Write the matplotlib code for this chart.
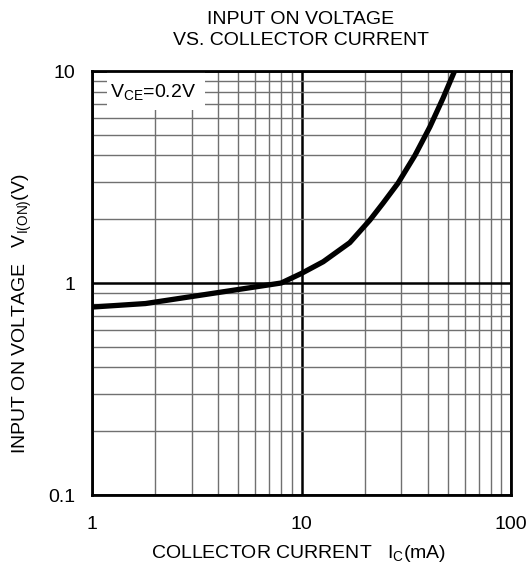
import matplotlib
matplotlib.use("Agg")
import matplotlib.pyplot as plt
from matplotlib.ticker import FixedLocator, FixedFormatter, NullFormatter, LogLocator
from matplotlib.patches import Rectangle

plt.rcParams['font.family'] = ['Liberation Sans', 'DejaVu Sans']
plt.rcParams['mathtext.fontset'] = 'custom'
plt.rcParams['mathtext.rm'] = 'Liberation Sans'
plt.rcParams['mathtext.it'] = 'Liberation Sans'
plt.rcParams['mathtext.default'] = 'regular'

# Data
collector_current_mA = [1.0, 1.8, 8.0, 10.0, 12.7, 17.0, 21.2, 24.5, 28.9, 34.8, 41.0, 47.4, 53.8]
input_on_voltage_V = [0.77, 0.80, 1.0, 1.11, 1.26, 1.55, 1.98, 2.38, 2.96, 4.0, 5.45, 7.45, 10.0]

x_ticks = [1, 10, 100]
x_tick_labels = ["1", "10", "100"]
y_ticks = [0.1, 1, 10]
y_tick_labels = ["0.1", "1", "10"]

title = "INPUT ON VOLTAGE\nVS. COLLECTOR CURRENT"
xlabel = "COLLECTOR CURRENT   I$_C$(mA)"
ylabel = "INPUT ON VOLTAGE   V$_{I(ON)}$(V)"
annotation = "V$_{CE}$=0.2V"

FS = 14

W, H = 528, 564
fig = plt.figure(figsize=(W / 100, H / 100), dpi=100)
L, R, T, B = 92, 511, 71, 495
ax = fig.add_axes([L / W, 1 - B / H, (R - L) / W, (B - T) / H])

ax.set_xscale('log')
ax.set_yscale('log')
ax.set_xlim(1, 100)
ax.set_ylim(0.1, 10)

ax.xaxis.set_major_locator(FixedLocator(x_ticks))
ax.xaxis.set_major_formatter(FixedFormatter(x_tick_labels))
ax.yaxis.set_major_locator(FixedLocator(y_ticks))
ax.yaxis.set_major_formatter(FixedFormatter(y_tick_labels))
ax.xaxis.set_minor_locator(LogLocator(base=10, subs=range(2, 10)))
ax.yaxis.set_minor_locator(LogLocator(base=10, subs=range(2, 10)))
ax.xaxis.set_minor_formatter(NullFormatter())
ax.yaxis.set_minor_formatter(NullFormatter())

ax.grid(which='minor', color='#707070', lw=1.0, zorder=1)
ax.grid(which='major', color='black', lw=1.8, zorder=1)
ax.set_axisbelow(True)

ax.tick_params(which='both', length=0)
ax.tick_params(axis='x', pad=15, labelsize=FS)
ax.tick_params(axis='y', pad=12, labelsize=FS)

for s in ax.spines.values():
    s.set_linewidth(2.0)
    s.set_zorder(5)

ax.add_patch(Rectangle((0.036, 0.908), 0.234, 0.092, transform=ax.transAxes,
                       facecolor='white', edgecolor='none', zorder=2))
ax.text(0.146, 0.950, annotation, transform=ax.transAxes, ha='center', va='center',
        fontsize=FS, zorder=3)

ax.plot(collector_current_mA, input_on_voltage_V, color='black', lw=3.8,
        solid_joinstyle='round', solid_capstyle='butt', zorder=4, clip_on=True)

fig.text(301 / W, 1 - 30 / H, title, ha='center', va='center', fontsize=FS,
         linespacing=1.3)
fig.text(299 / W, 1 - 553 / H, xlabel, ha='center', va='center', fontsize=FS)
fig.text(22 / W, 1 - 314 / H, ylabel, ha='center', va='center', fontsize=FS,
         rotation=90)

fig.savefig("out.png", dpi=100)
